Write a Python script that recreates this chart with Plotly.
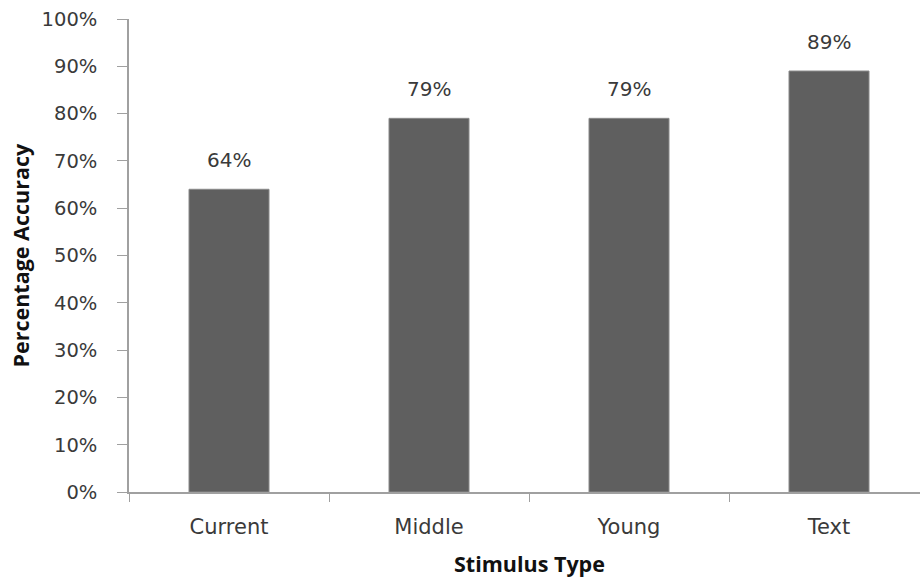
import plotly.graph_objects as go

categories = ["Current", "Middle", "Young", "Text"]
accuracy = [0.64, 0.79, 0.79, 0.89]
labels = ["64%", "79%", "79%", "89%"]
y_ticks = [i / 10 for i in range(11)]
y_tick_text = [f"{i*10}%" for i in range(11)]

TXT = "#3a3a3a"
FONT = "DejaVu Sans"

fig = go.Figure()
fig.add_trace(go.Bar(
    x=categories, y=accuracy,
    marker=dict(color="#5f5f5f", line=dict(color="#8a8a8a", width=1)),
    cliponaxis=False,
))
for c, v, t in zip(categories, accuracy, labels):
    fig.add_annotation(x=c, y=v, text=t, showarrow=False, yanchor="bottom",
                       yshift=15, font=dict(family=FONT, size=20, color=TXT))

fig.update_layout(
    width=920, height=579,
    margin=dict(l=129, r=0, t=19, b=87),
    plot_bgcolor="white", paper_bgcolor="white",
    bargap=0.6,
    showlegend=False,
    font=dict(family=FONT, size=20, color=TXT),
)
fig.update_xaxes(
    range=[-0.5, 3.455],
    showline=True, linecolor="#a0a0a0", linewidth=1.5,
    ticks="outside", tickson="boundaries", ticklen=8, tickcolor="#a0a0a0",
    tickfont=dict(family=FONT, size=21, color=TXT),
    ticklabelstandoff=15,
    showgrid=False,
)
fig.update_yaxes(
    range=[0, 1],
    tickvals=y_ticks, ticktext=y_tick_text,
    showline=True, linecolor="#a0a0a0", linewidth=1.5,
    ticks="outside", ticklen=10, tickcolor="#a0a0a0",
    tickfont=dict(family=FONT, size=19.5, color=TXT),
    ticklabelstandoff=16,
    showgrid=False, zeroline=False,
)
fig.add_annotation(
    x=(20 - 129) / 791, xref="paper", xanchor="center", y=0.5, yref="paper",
    text="<b>Percentage Accuracy</b>", showarrow=False, textangle=-90,
    font=dict(family="Open Sans", size=21.5, color="#111111"),
)
fig.add_annotation(
    x=1.5, xref="x", y=(492 - 563) / 472.5, yref="paper",
    text="<b>Stimulus Type</b>", showarrow=False,
    font=dict(family="Open Sans", size=21.5, color="#111111"),
    yanchor="middle",
)
fig.write_html("out.html")
